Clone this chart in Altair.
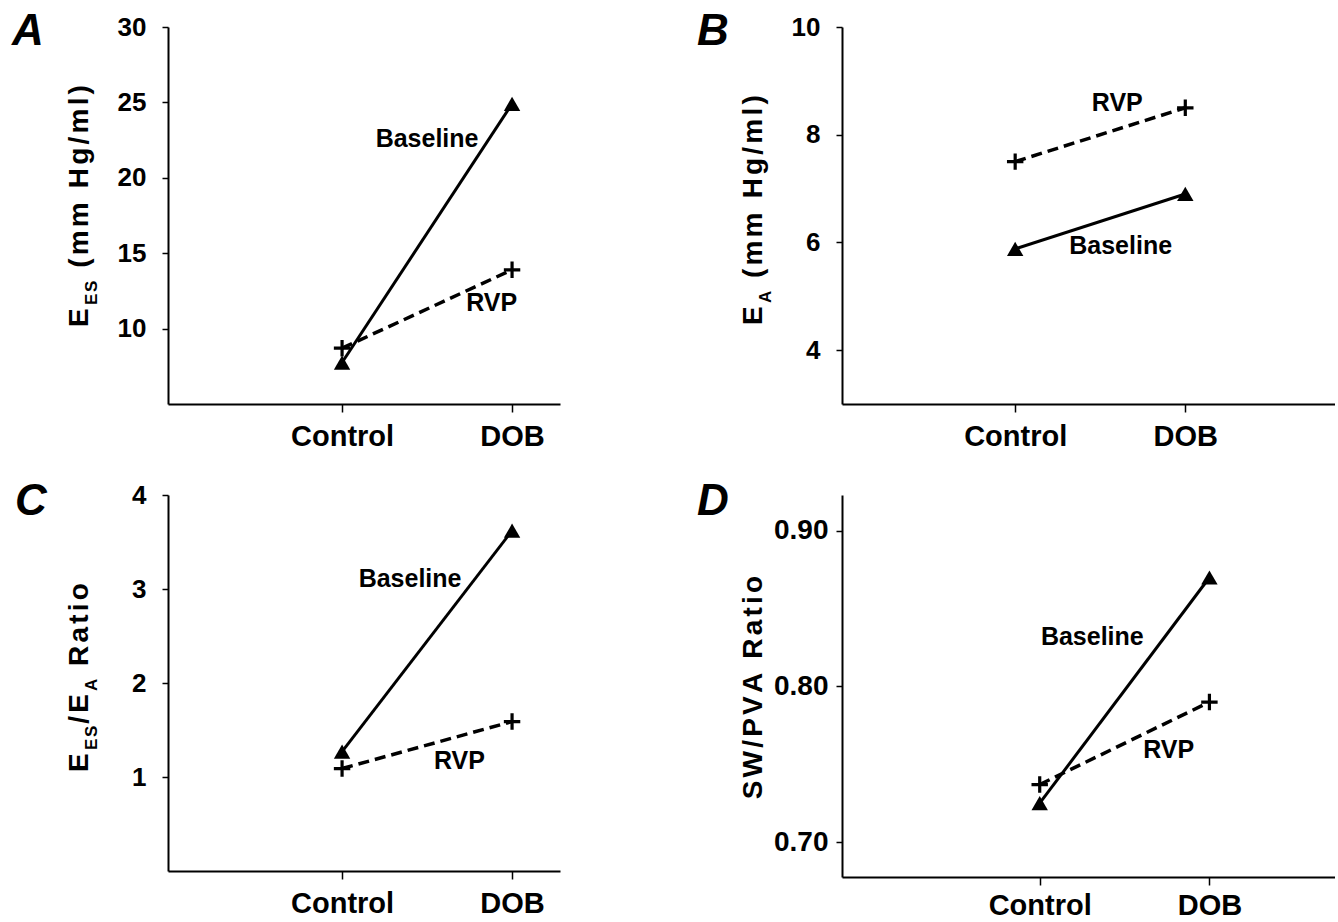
import altair as alt
import pandas as pd

# ---------------- data ----------------
groups = ["Control", "DOB"]
xpos = [1, 2]

a_baseline = [7.75, 24.9]
a_rvp = [8.7, 13.9]
b_baseline = [5.88, 6.9]
b_rvp = [7.5, 8.5]
c_baseline = [1.27, 3.62]
c_rvp = [1.09, 1.59]
d_baseline = [0.725, 0.870]
d_rvp = [0.737, 0.790]

a_yticks = [10, 15, 20, 25, 30]
b_yticks = [4, 6, 8, 10]
c_yticks = [1, 2, 3, 4]
d_yticks = [0.70, 0.80, 0.90]

FONT = "Liberation Sans"

# Arial/Liberation Sans Bold advance widths (per em) for title layout
W = {'E': .667, 'S': .667, 'A': .722, ' ': .278, '(': .333, ')': .333, 'm': .889,
     'H': .722, 'g': .611, '/': .278, 'l': .278, 'R': .722, 'a': .556, 't': .333,
     'i': .278, 'o': .611, 'W': .944, 'P': .667, 'V': .667}

TR_MAIN = 3.2
TR_SUB = 1.8


def title_rows(pieces, start_y, base_x, main=28, sub=17):
    rows = []
    y = start_y
    for text, is_sub in pieces:
        fs = sub if is_sub else main
        tr = TR_SUB if is_sub else TR_MAIN
        for ch in text:
            if ch != ' ':
                rows.append(dict(px=base_x + (9 if is_sub else 0), py=y, ch=ch, fs=fs))
            y -= W[ch] * fs + tr
    return rows


def title_length(pieces, main=28, sub=17):
    L = 0
    for text, is_sub in pieces:
        fs = sub if is_sub else main
        tr = TR_SUB if is_sub else TR_MAIN
        for ch in text:
            L += W[ch] * fs + tr
    return L


def panel(baseline, rvp, ydomain, yticks, yfmt, xdomain, width, height,
          labels, title_pieces, title_start, letter, letter_x, letter_y,
          xpad=10, ysize=26, ypad=16):
    df = pd.DataFrame({
        "x": xpos * 2,
        "value": baseline + rvp,
        "series": ["Baseline"] * 2 + ["RVP"] * 2,
    })
    xenc = alt.X("x:Q", scale=alt.Scale(domain=xdomain, nice=False, zero=False),
                 axis=alt.Axis(values=xpos, title=None, grid=False,
                               labelExpr=f"datum.value == {xpos[0]} ? '{groups[0]}' : '{groups[1]}'",
                               tickSize=8, labelFontSize=29, labelPadding=xpad,
                               labelFlush=False))
    yenc = alt.Y("value:Q", scale=alt.Scale(domain=ydomain, nice=False, zero=False),
                 axis=alt.Axis(values=yticks, title=None, grid=False, format=yfmt,
                               tickSize=6, labelFontSize=ysize, labelPadding=ypad,
                               labelFlush=False))
    base = alt.Chart(df).encode(x=xenc, y=yenc)
    line_b = base.transform_filter(alt.datum.series == "Baseline").mark_line(
        color="black", strokeWidth=3)
    line_r = base.transform_filter(alt.datum.series == "RVP").mark_line(
        color="black", strokeWidth=3.5, strokeDash=[11, 6])
    tri = base.transform_filter(alt.datum.series == "Baseline").mark_point(
        shape="triangle-up", filled=True, size=270, color="black", opacity=1)
    plus = base.transform_filter(alt.datum.series == "RVP").mark_point(
        shape="M-1,0L1,0M0,-1L0,1", filled=False, size=270, color="black",
        strokeWidth=3.2, opacity=1)

    lab_df = pd.DataFrame(labels, columns=["lx", "ly", "txt"])
    lab = alt.Chart(lab_df).mark_text(font=FONT, fontWeight="bold", fontSize=25,
                                      color="black", align="center", baseline="middle").encode(
        x=alt.X("lx:Q"), y=alt.Y("ly:Q"), text="txt:N")

    tdf = pd.DataFrame(title_rows(title_pieces, title_start, -80))
    ttl = alt.Chart(tdf).mark_text(font=FONT, fontWeight="bold", angle=270, align="left",
                                   baseline="alphabetic", color="black").encode(
        x=alt.X("px:Q", scale=None), y=alt.Y("py:Q", scale=None),
        text="ch:N", size=alt.Size("fs:Q", scale=None, legend=None))

    let = alt.Chart(pd.DataFrame({"k": [0]})).mark_text(
        text=letter, font=FONT, fontWeight="bold", fontStyle="italic", fontSize=44,
        color="black", align="left", baseline="alphabetic").encode(
        x=alt.value(letter_x), y=alt.value(letter_y))

    return alt.layer(line_b, line_r, tri, plus, lab, ttl, let).properties(
        width=width, height=height)


pA = panel(a_baseline, a_rvp, [5, 30], a_yticks, "d", [-0.024, 2.282], 392, 377,
           [(1.5, 22.6, "Baseline"), (1.88, 11.7, "RVP")],
           [("E", 0), ("ES", 1), (" (mm Hg/ml)", 0)], 300, "A", -156, 18)
pB = panel(b_baseline, b_rvp, [3, 10], b_yticks, "d", [-0.018, 2.88], 493, 377,
           [(1.62, 5.93, "Baseline"), (1.6, 8.59, "RVP")],
           [("E", 0), ("A", 1), (" (mm Hg/ml)", 0)], 298, "B", -145, 18)
pC = panel(c_baseline, c_rvp, [0, 4], c_yticks, "d", [-0.024, 2.282], 392, 376,
           [(1.4, 3.11, "Baseline"), (1.69, 1.17, "RVP")],
           [("E", 0), ("ES", 1), ("/E", 0), ("A", 1), (" Ratio", 0)], 277, "C", -153, 20)
d_pieces = [("SW/PVA Ratio", 0)]
pD = panel(d_baseline, d_rvp, [0.6776, 0.923], d_yticks, ".2f", [-0.165, 2.74], 493, 382,
           [(1.31, 0.832, "Baseline"), (1.76, 0.759, "RVP")],
           d_pieces, 191 + title_length(d_pieces) / 2, "D", -145, 20, xpad=6,
           ysize=28, ypad=8)

chart = alt.concat(pA, pB, pC, pD, columns=2, spacing={"row": 91, "column": 282},
                   bounds="flush").properties(
    padding={"left": 12, "top": 10, "right": 0, "bottom": 0}
).configure_view(stroke=None).configure_axis(
    domainColor="black", domainWidth=2, tickColor="black", tickWidth=1.5,
    labelFont=FONT, labelFontWeight="bold", labelColor="black", grid=False
)

chart.save("out.html", embed_options={"renderer": "svg", "actions": False})
